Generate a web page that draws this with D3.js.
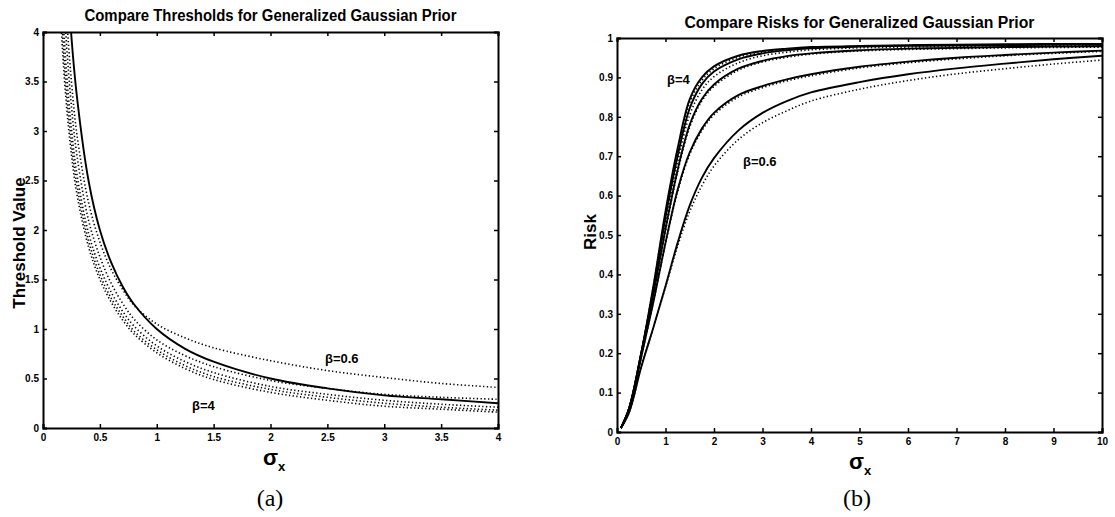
<!DOCTYPE html>
<html>
<head>
<meta charset="utf-8">
<script src="https://cdn.jsdelivr.net/npm/d3@7/dist/d3.min.js"></script>
<style>
  html, body { margin: 0; padding: 0; background: #fff; }
  svg { display: block; }
</style>
</head>
<body>
<svg id="chart" width="1115" height="517"></svg>
<script>
// ---------- Panel (a): thresholds ----------
const threshSigma = [0.14, 0.16, 0.2, 0.25, 0.3, 0.4, 0.5, 0.6, 0.7, 0.8, 1.0, 1.25, 1.5, 2.0, 2.5, 3.0, 3.5, 4.0];
const thresholdBayes  = [7.1, 6.2, 4.9, 3.95, 3.33, 2.5, 2.0, 1.67, 1.43, 1.25, 1.0, 0.8, 0.67, 0.5, 0.4, 0.33, 0.29, 0.25];
const thresholdOptB06 = [6.0, 5.3, 4.3, 3.5, 2.95, 2.28, 1.88, 1.6, 1.4, 1.24, 1.05, 0.91, 0.81, 0.68, 0.58, 0.51, 0.45, 0.41];
const thresholdOptB1  = [5.6, 4.95, 4.0, 3.25, 2.74, 2.1, 1.73, 1.46, 1.26, 1.1, 0.89, 0.73, 0.62, 0.48, 0.4, 0.34, 0.31, 0.29];
const thresholdOptB2  = [5.1, 4.5, 3.7, 3.02, 2.55, 1.97, 1.62, 1.37, 1.18, 1.03, 0.83, 0.67, 0.56, 0.42, 0.34, 0.28, 0.24, 0.21];
const thresholdOptB3  = [4.8, 4.25, 3.5, 2.88, 2.44, 1.89, 1.55, 1.31, 1.13, 0.98, 0.79, 0.63, 0.52, 0.39, 0.31, 0.25, 0.21, 0.18];
const thresholdOptB4  = [4.55, 4.05, 3.35, 2.76, 2.35, 1.83, 1.5, 1.27, 1.09, 0.95, 0.76, 0.6, 0.49, 0.36, 0.28, 0.22, 0.19, 0.16];
const threshXTicks = [0, 0.5, 1, 1.5, 2, 2.5, 3, 3.5, 4];
const threshYTicks = [0, 0.5, 1, 1.5, 2, 2.5, 3, 3.5, 4];

// ---------- Panel (b): risks ----------
const riskSigma = [0.08, 0.25, 0.5, 0.75, 1, 1.25, 1.5, 1.75, 2, 2.5, 3, 3.5, 4, 5, 6, 7, 8, 9, 10];
const riskBayesB4  = [0.01, 0.06, 0.20, 0.37, 0.56, 0.72, 0.845, 0.9, 0.928, 0.955, 0.967, 0.973, 0.977, 0.98, 0.982, 0.983, 0.984, 0.985, 0.985];
const riskOptB4    = [0.01, 0.06, 0.20, 0.37, 0.555, 0.713, 0.836, 0.892, 0.922, 0.951, 0.964, 0.971, 0.975, 0.979, 0.981, 0.982, 0.983, 0.984, 0.984];
const riskBayesB3  = [0.01, 0.06, 0.20, 0.36, 0.545, 0.70, 0.822, 0.883, 0.915, 0.946, 0.961, 0.969, 0.974, 0.978, 0.98, 0.981, 0.982, 0.983, 0.983];
const riskOptB3    = [0.01, 0.06, 0.20, 0.355, 0.533, 0.685, 0.805, 0.868, 0.902, 0.937, 0.955, 0.964, 0.97, 0.975, 0.977, 0.979, 0.98, 0.981, 0.982];
const riskBayesB2  = [0.01, 0.06, 0.20, 0.35, 0.515, 0.665, 0.78, 0.845, 0.882, 0.922, 0.942, 0.954, 0.961, 0.969, 0.973, 0.975, 0.977, 0.978, 0.979];
const riskOptB2    = [0.01, 0.06, 0.195, 0.345, 0.51, 0.66, 0.774, 0.84, 0.877, 0.918, 0.939, 0.951, 0.959, 0.967, 0.971, 0.973, 0.975, 0.976, 0.977];
const riskBayesB1  = [0.01, 0.055, 0.19, 0.33, 0.48, 0.615, 0.71, 0.77, 0.81, 0.855, 0.878, 0.895, 0.908, 0.927, 0.94, 0.95, 0.957, 0.963, 0.968];
const riskOptB1    = [0.01, 0.055, 0.19, 0.33, 0.478, 0.61, 0.705, 0.765, 0.805, 0.85, 0.874, 0.891, 0.904, 0.924, 0.937, 0.947, 0.955, 0.961, 0.966];
const riskBayesB06 = [0.01, 0.05, 0.165, 0.265, 0.37, 0.48, 0.575, 0.645, 0.695, 0.765, 0.81, 0.84, 0.862, 0.888, 0.908, 0.923, 0.935, 0.946, 0.955];
const riskOptB06   = [0.01, 0.05, 0.165, 0.265, 0.368, 0.472, 0.56, 0.625, 0.675, 0.742, 0.785, 0.815, 0.84, 0.87, 0.892, 0.909, 0.922, 0.934, 0.944];
const riskXTicks = [0, 1, 2, 3, 4, 5, 6, 7, 8, 9, 10];
const riskYTicks = [0, 0.1, 0.2, 0.3, 0.4, 0.5, 0.6, 0.7, 0.8, 0.9, 1];

const SANS = "'Liberation Sans', Arial, Helvetica, sans-serif";
const SERIF = "'Liberation Serif', 'DejaVu Serif', serif";
const svg = d3.select("#chart");

function panel(cfg) {
  const x = d3.scaleLinear().domain(cfg.xDomain).range([cfg.left, cfg.right]);
  const y = d3.scaleLinear().domain(cfg.yDomain).range([cfg.bottom, cfg.top]);
  const g = svg.append("g");
  const clipId = "clip-" + cfg.id;
  svg.append("defs").append("clipPath").attr("id", clipId)
    .append("rect").attr("x", cfg.left).attr("y", cfg.top)
    .attr("width", cfg.right - cfg.left).attr("height", cfg.bottom - cfg.top);

  const line = d3.line().x(d => x(d[0])).y(d => y(d[1])).curve(d3.curveCatmullRom.alpha(0.5));
  const curves = g.append("g").attr("clip-path", `url(#${clipId})`);
  cfg.series.forEach(s => {
    curves.append("path")
      .datum(cfg.xs.map((v, i) => [v, s.values[i]]))
      .attr("fill", "none").attr("stroke", "#000")
      .attr("stroke-width", s.dotted ? 1.6 : 1.9)
      .attr("stroke-dasharray", s.dotted ? "1.3,2.4" : null)
      .attr("d", line);
  });

  const tk = 4;
  const fmt = d3.format("");
  const axes = [
    [d3.axisBottom(x).tickValues(cfg.xTicks).tickSize(-tk).tickPadding(6).tickFormat(fmt), `translate(0,${cfg.bottom})`],
    [d3.axisTop(x).tickValues(cfg.xTicks).tickSize(-tk).tickFormat(""), `translate(0,${cfg.top})`],
    [d3.axisLeft(y).tickValues(cfg.yTicks).tickSize(-tk).tickPadding(4).tickFormat(fmt), `translate(${cfg.left},0)`],
    [d3.axisRight(y).tickValues(cfg.yTicks).tickSize(-tk).tickFormat(""), `translate(${cfg.right},0)`]
  ];
  axes.forEach(([ax, tr]) => {
    const a = g.append("g").attr("transform", tr).call(ax);
    a.select(".domain").attr("stroke", "#000").attr("stroke-width", 2);
    a.selectAll(".tick line").attr("stroke", "#000").attr("stroke-width", 1.5);
    a.selectAll(".tick text").style("font-family", SANS)
      .style("font-size", "10px").style("font-weight", "bold").attr("fill", "#000");
  });

  g.append("text").attr("x", (cfg.left + cfg.right) / 2).attr("y", cfg.titleY)
    .attr("text-anchor", "middle")
    .style("font-family", SANS).style("font-size", "16px").style("font-weight", "bold")
    .attr("textLength", cfg.titleLen).attr("lengthAdjust", "spacingAndGlyphs")
    .text(cfg.title);

  const xl = g.append("text").attr("x", cfg.sigmaX).attr("y", cfg.sigmaY)
    .style("font-family", SANS).style("font-weight", "bold");
  xl.append("tspan").style("font-size", "22px").text("σ");
  xl.append("tspan").style("font-size", "13px").attr("dy", 6).text("x");

  g.append("text").attr("transform", `translate(${cfg.yLabelX},${cfg.yLabelY}) rotate(-90)`)
    .attr("text-anchor", "middle")
    .style("font-family", SANS).style("font-size", "17px").style("font-weight", "bold")
    .text(cfg.yLabel);

  cfg.notes.forEach(n => {
    g.append("text").attr("x", n.x).attr("y", n.y)
      .style("font-family", SANS).style("font-size", "13px").style("font-weight", "bold")
      .text(n.t);
  });

  g.append("text").attr("x", cfg.capX).attr("y", cfg.capY).attr("text-anchor", "middle")
    .style("font-family", SERIF).style("font-size", "24px")
    .text(cfg.caption);
}

panel({
  id: "a", left: 43, right: 498, top: 32, bottom: 428,
  xDomain: [0, 4], yDomain: [0, 4], xs: threshSigma,
  xTicks: threshXTicks, yTicks: threshYTicks,
  series: [
    { values: thresholdOptB06, dotted: true },
    { values: thresholdOptB1, dotted: true },
    { values: thresholdOptB2, dotted: true },
    { values: thresholdOptB3, dotted: true },
    { values: thresholdOptB4, dotted: true },
    { values: thresholdBayes, dotted: false }
  ],
  title: "Compare Thresholds for Generalized Gaussian Prior", titleY: 21, titleLen: 372,
  sigmaX: 263, sigmaY: 465,
  yLabel: "Threshold Value", yLabelX: 25, yLabelY: 243,
  notes: [{ x: 325, y: 363, t: "β=0.6" }, { x: 192, y: 410, t: "β=4" }],
  caption: "(a)", capX: 270, capY: 506
});

panel({
  id: "b", left: 617, right: 1102, top: 38, bottom: 432,
  xDomain: [0, 10], yDomain: [0, 1], xs: riskSigma,
  xTicks: riskXTicks, yTicks: riskYTicks,
  series: [
    { values: riskOptB4, dotted: true },
    { values: riskOptB3, dotted: true },
    { values: riskOptB2, dotted: true },
    { values: riskOptB1, dotted: true },
    { values: riskOptB06, dotted: true },
    { values: riskBayesB4, dotted: false },
    { values: riskBayesB3, dotted: false },
    { values: riskBayesB2, dotted: false },
    { values: riskBayesB1, dotted: false },
    { values: riskBayesB06, dotted: false }
  ],
  title: "Compare Risks for Generalized Gaussian Prior", titleY: 28, titleLen: 350,
  sigmaX: 849, sigmaY: 469,
  yLabel: "Risk", yLabelX: 596, yLabelY: 232,
  notes: [{ x: 667, y: 84, t: "β=4" }, { x: 743, y: 166, t: "β=0.6" }],
  caption: "(b)", capX: 857, capY: 506
});
</script>
</body>
</html>
